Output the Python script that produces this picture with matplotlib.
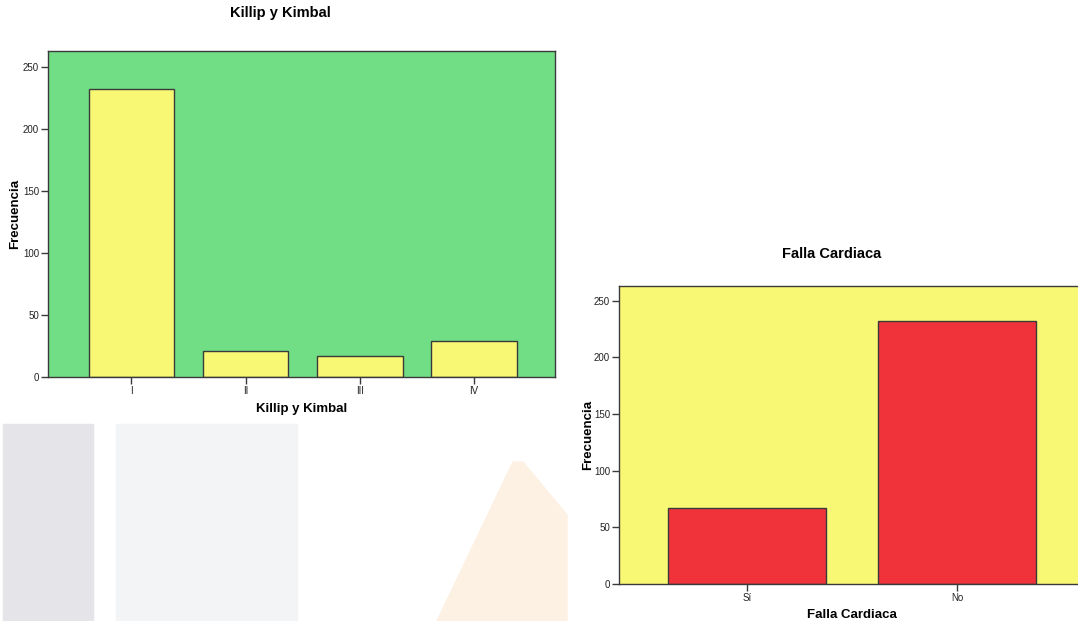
"""Frequency bar charts: Killip y Kimbal class and heart failure."""

import matplotlib.pyplot as plt
from matplotlib.patches import Polygon, Rectangle

killip_labels = ["I", "II", "III", "IV"]
killip_counts = [232, 21, 17, 29]

falla_labels = ["Sí", "No"]
falla_counts = [67, 232]

W, H = 1078, 621
EDGE = "#3a3a3a"
TEXT = "#222222"

plt.rcParams["font.family"] = ["Liberation Sans", "DejaVu Sans"]


def px_box(left, top, right, bottom):
    """Convert a pixel box (origin top-left) to figure fractions."""
    return [left / W, (H - bottom) / H, (right - left) / W, (bottom - top) / H]


def style_axis(ax, face):
    ax.set_facecolor(face)
    for spine in ax.spines.values():
        spine.set_color(EDGE)
        spine.set_linewidth(1.0)
    ax.tick_params(axis="both", direction="out", length=5, width=1,
                   color=EDGE, labelsize=7, labelcolor=TEXT, pad=1.5)
    ax.set_ylim(0, 263)
    ax.set_yticks([0, 50, 100, 150, 200, 250])


fig = plt.figure(figsize=(W / 100, H / 100), dpi=100)

# faint page shading behind the charts
fig.patches.append(Rectangle((3 / W, 0), 90 / W, (H - 424) / H,
                             transform=fig.transFigure, color="#e5e4e9", zorder=0))
fig.patches.append(Rectangle((116 / W, 0), 181 / W, (H - 424) / H,
                             transform=fig.transFigure, color="#f3f4f6", zorder=0))
shape = [(437, 621), (513, 462), (523, 462), (567, 515), (567, 621)]
fig.patches.append(Polygon([(x / W, (H - y) / H) for x, y in shape],
                           transform=fig.transFigure, color="#fdf1e4", zorder=0))

# Killip y Kimbal
ax1 = fig.add_axes(px_box(48, 51, 555, 377))
style_axis(ax1, "#71dd84")
x1 = range(len(killip_labels))
ax1.bar(x1, killip_counts, width=0.75, color="#f9f874", edgecolor=EDGE, linewidth=1)
ax1.set_xticks(list(x1))
ax1.set_xticklabels(killip_labels)
ax1.set_xlim(-0.73, 3.71)
ax1.set_title("Killip y Kimbal", fontsize=10.5, fontweight="bold", x=0.458, pad=24.5)
ax1.set_xlabel("Killip y Kimbal", fontsize=9.5, fontweight="bold", labelpad=5)
ax1.set_ylabel("Frecuencia", fontsize=9.5, fontweight="bold", labelpad=1.5)

# Falla Cardiaca
ax2 = fig.add_axes(px_box(619, 286, 1085, 584))
style_axis(ax2, "#f9f874")
x2 = range(len(falla_labels))
ax2.bar(x2, falla_counts, width=0.75, color="#f0323a", edgecolor=EDGE, linewidth=1)
ax2.set_xticks(list(x2))
ax2.set_xticklabels(falla_labels)
ax2.set_xlim(-0.61, 1.61)
ax2.set_title("Falla Cardiaca", fontsize=10.5, fontweight="bold", x=0.457, pad=20.5)
ax2.set_xlabel("Falla Cardiaca", fontsize=9.5, fontweight="bold", labelpad=4)
ax2.set_ylabel("Frecuencia", fontsize=9.5, fontweight="bold", labelpad=0)

fig.savefig("out.png", dpi=100)
